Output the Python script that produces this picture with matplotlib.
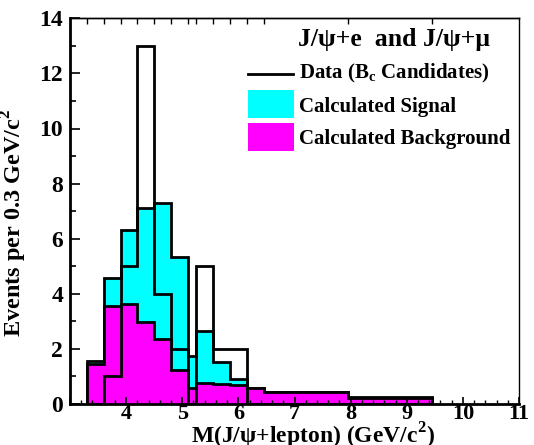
import numpy as np
import matplotlib
matplotlib.use("Agg")
import matplotlib.pyplot as plt
from matplotlib.patches import Rectangle
from matplotlib.lines import Line2D
from matplotlib.ticker import MultipleLocator

plt.rcParams['font.family'] = ['Liberation Serif', 'DejaVu Serif']
plt.rcParams['font.weight'] = 'bold'
plt.rcParams['axes.labelweight'] = 'bold'
plt.rcParams['mathtext.fontset'] = 'custom'
plt.rcParams['mathtext.rm'] = 'Liberation Serif:bold'
plt.rcParams['mathtext.bf'] = 'Liberation Serif:bold'

# bin edges (GeV/c^2), variable width
edges = np.array([3.3, 3.6, 3.9, 4.2, 4.5, 4.8, 5.1, 5.25, 5.55, 5.85, 6.15, 6.45, 7.95, 9.45])

# events per 0.3 GeV/c^2
data_counts = [0, 1, 5, 13, 4, 2, 0, 5, 2, 2, 0, 0, 0]
total_calc = [1.55, 4.58, 6.30, 7.13, 7.29, 5.33, 1.76, 2.64, 1.52, 0.89, 0.59, 0.43, 0.24]
background = [1.45, 3.55, 3.62, 2.96, 2.36, 1.23, 0.59, 0.77, 0.71, 0.69, 0.57, 0.42, 0.23]

fig = plt.figure(figsize=(5.34, 4.45), dpi=100)
ax = fig.add_axes([70 / 534, 1 - 404 / 445, 449 / 534, 385.7 / 445])

lw = 2.0
# signal + background (cyan), then background (magenta), then data outline
ax.stairs(total_calc, edges, fill=True, facecolor='#00ffff', edgecolor='none', baseline=0)
ax.stairs(total_calc, edges, fill=False, color='black', lw=lw, baseline=0)
ax.stairs(background, edges, fill=True, facecolor='#ff00ff', edgecolor='none', baseline=0)
ax.stairs(background, edges, fill=False, color='black', lw=lw, baseline=0)
ax.stairs(data_counts, edges, fill=False, color='black', lw=lw, baseline=0)

ax.set_xlim(3, 11)
ax.set_ylim(0, 14)

ax.xaxis.set_major_locator(MultipleLocator(1))
ax.xaxis.set_minor_locator(MultipleLocator(0.2))
ax.yaxis.set_major_locator(MultipleLocator(2))
ax.yaxis.set_minor_locator(MultipleLocator(1))
ax.tick_params(axis='both', which='both', direction='in', top=False, right=False)
ax.tick_params(axis='y', which='major', length=7, width=1.2, labelsize=17, pad=5)
ax.tick_params(axis='y', which='minor', length=4, width=1.2)
ax.tick_params(axis='x', which='major', length=5, width=1.2, labelsize=16, pad=0)
ax.tick_params(axis='x', which='minor', length=3, width=1.0)
ax.set_xticklabels([str(int(v)) if 4 <= v <= 11 else '' for v in ax.get_xticks()])
ax.set_yticklabels([str(int(v)) for v in ax.get_yticks()])

# top axis ticks at bin edges
top = ax.secondary_xaxis('top')
top.set_xticks(edges)
top.set_xticklabels([])
top.tick_params(direction='in', length=4, width=1.0)
top.spines['top'].set_linewidth(1.0)

for s in ['left', 'bottom']:
    ax.spines[s].set_linewidth(2.0)
for s in ['top', 'right']:
    ax.spines[s].set_linewidth(1.0)

ax.set_xlabel(r'M(J/ψ+lepton) (GeV/c$^{2}$)', fontsize=17)
ax.set_ylabel(r'Events per 0.3 GeV/c$^{2}$', fontsize=17.5)
ax.xaxis.set_label_coords(0.542, -0.044)
ax.yaxis.set_label_coords(-0.092, 0.47)

# legend
ax.text(0.508, 0.944, 'J/ψ+e  and J/ψ+μ', transform=ax.transAxes,
        fontsize=18.5, va='center', ha='left')
ax.add_line(Line2D([0.396, 0.497], [0.856, 0.856], transform=ax.transAxes,
                   color='black', lw=2))
ax.add_patch(Rectangle((0.396, 0.742), 0.103, 0.072, transform=ax.transAxes,
                       facecolor='#00ffff', edgecolor='none'))
ax.add_patch(Rectangle((0.396, 0.657), 0.103, 0.072, transform=ax.transAxes,
                       facecolor='#ff00ff', edgecolor='none'))
ax.text(0.510, 0.856, r'Data (B$_{\rm c}$ Candidates)', transform=ax.transAxes,
        fontsize=15, va='center', ha='left')
ax.text(0.510, 0.771, 'Calculated Signal', transform=ax.transAxes,
        fontsize=15, va='center', ha='left')
ax.text(0.510, 0.687, 'Calculated Background', transform=ax.transAxes,
        fontsize=15, va='center', ha='left')

fig.savefig('out.png', dpi=100)
